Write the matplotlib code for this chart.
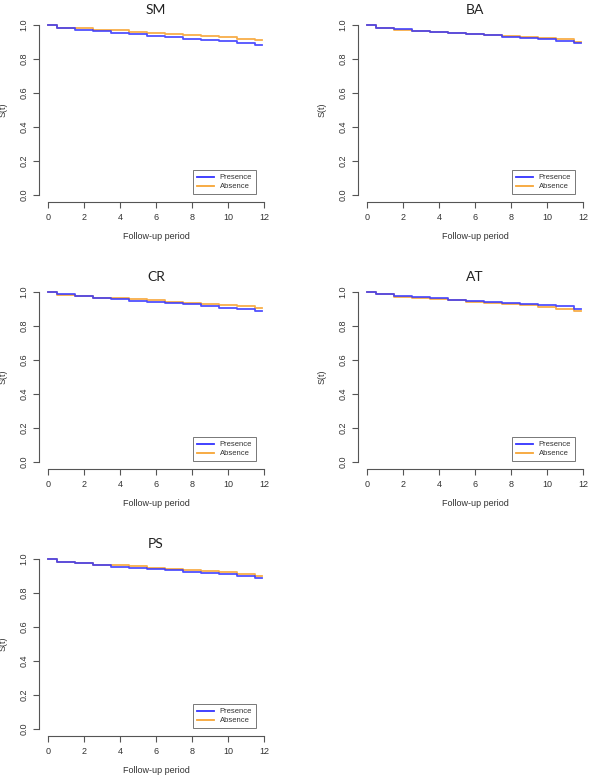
import numpy as np
import matplotlib.pyplot as plt

plt.rcParams['font.family'] = ['Liberation Sans', 'DejaVu Sans']

# step times of the Kaplan-Meier curves (follow-up years)
temps = [0, 0.5, 1.5, 2.5, 3.5, 4.5, 5.5, 6.5, 7.5, 8.5, 9.5, 10.5, 11.5]
t_fin = 11.9

titres = ['SM', 'BA', 'CR', 'AT', 'PS']

presence_SM = [1.0, 0.980, 0.968, 0.962, 0.953, 0.945, 0.937, 0.928, 0.920, 0.913, 0.904, 0.896, 0.880]
absence_SM = [1.0, 0.985, 0.985, 0.971, 0.968, 0.961, 0.955, 0.949, 0.943, 0.935, 0.927, 0.920, 0.912]

presence_BA = [1.0, 0.984, 0.978, 0.967, 0.961, 0.955, 0.949, 0.943, 0.931, 0.922, 0.916, 0.906, 0.892]
absence_BA = [1.0, 0.982, 0.969, 0.967, 0.959, 0.951, 0.945, 0.939, 0.935, 0.931, 0.924, 0.916, 0.900]

presence_CR = [1.0, 0.988, 0.975, 0.965, 0.959, 0.949, 0.943, 0.935, 0.927, 0.918, 0.906, 0.898, 0.888]
absence_CR = [1.0, 0.982, 0.978, 0.965, 0.963, 0.957, 0.953, 0.943, 0.935, 0.931, 0.925, 0.918, 0.908]

presence_AT = [1.0, 0.986, 0.976, 0.969, 0.963, 0.953, 0.947, 0.939, 0.935, 0.929, 0.924, 0.916, 0.902]
absence_AT = [1.0, 0.988, 0.973, 0.967, 0.961, 0.953, 0.943, 0.937, 0.929, 0.924, 0.912, 0.900, 0.890]

presence_PS = [1.0, 0.982, 0.975, 0.965, 0.953, 0.947, 0.943, 0.936, 0.926, 0.916, 0.914, 0.902, 0.889]
absence_PS = [1.0, 0.984, 0.975, 0.965, 0.963, 0.957, 0.945, 0.939, 0.936, 0.932, 0.922, 0.914, 0.902]

presences = [presence_SM, presence_BA, presence_CR, presence_AT, presence_PS]
absences = [absence_SM, absence_BA, absence_CR, absence_AT, absence_PS]

x_ticks = [0, 2, 4, 6, 8, 10, 12]
y_ticks = [0.0, 0.2, 0.4, 0.6, 0.8, 1.0]

W, H = 604, 776
fig = plt.figure(figsize=(W / 100, H / 100), dpi=100)

# panel boxes in pixels: (left, top)
gauches = [39.4, 358.4]
hauts = [18.2, 285.2, 552.2]
larg, haut = 233.2, 183.6

gris = '#555555'
texte = '#333333'
bleu = '#3333ff'
orange = '#f7a535'

for k in range(5):
    g = gauches[k % 2]
    h = hauts[k // 2]
    ax = fig.add_axes([g / W, 1 - (h + haut) / H, larg / W, haut / H])

    x = temps + [t_fin]
    yp = presences[k] + [presences[k][-1]]
    ya = absences[k] + [absences[k][-1]]
    # orange first, blue drawn over it
    ax.step(x, ya, where='post', color=orange, lw=1.3, alpha=0.9, zorder=2)
    ax.step(x, yp, where='post', color=bleu, lw=1.3, alpha=0.85, zorder=3)

    ax.set_xlim(-0.48, 12.48)
    ax.set_ylim(-0.04, 1.04)
    for s in ['top', 'right']:
        ax.spines[s].set_visible(False)
    ax.spines['left'].set_bounds(0, 1)
    ax.spines['bottom'].set_bounds(0, 12)
    for s in ['left', 'bottom']:
        ax.spines[s].set_color(gris)
        ax.spines[s].set_linewidth(0.8)

    ax.set_xticks(x_ticks)
    ax.set_yticks(y_ticks)
    ax.set_yticklabels(['%.1f' % v for v in y_ticks], rotation=90, va='center')
    ax.tick_params(direction='out', length=4, width=0.8, color=gris,
                   labelsize=6.5, labelcolor=texte, pad=4)

    ax.set_xlabel('Follow-up period', fontsize=6.5, color=texte)
    ax.xaxis.set_label_coords(0.5, -0.163)
    ax.set_ylabel('S(t)', fontsize=6.5, color=texte)
    ax.yaxis.set_label_coords(-0.137, 0.5)
    ax.set_title(titres[k], fontsize=10, color='#222222', pad=3,
                 family=['Lato', 'DejaVu Sans'])

    # legend handles in the same order as the reference
    h_p, = ax.plot([], [], color=bleu, lw=1.3, label='Presence')
    h_a, = ax.plot([], [], color=orange, lw=1.3, label='Absence')
    leg = ax.legend(handles=[h_p, h_a], loc='lower right',
                    bbox_to_anchor=(0.929, 0.042),
                    fontsize=5.5, handlelength=2.2, borderpad=0.5,
                    labelspacing=0.2, fancybox=False, framealpha=1,
                    borderaxespad=0)
    leg.get_frame().set_edgecolor('#777777')
    leg.get_frame().set_linewidth(0.7)
    for t in leg.get_texts():
        t.set_color(texte)

fig.savefig('out.png', dpi=100)
